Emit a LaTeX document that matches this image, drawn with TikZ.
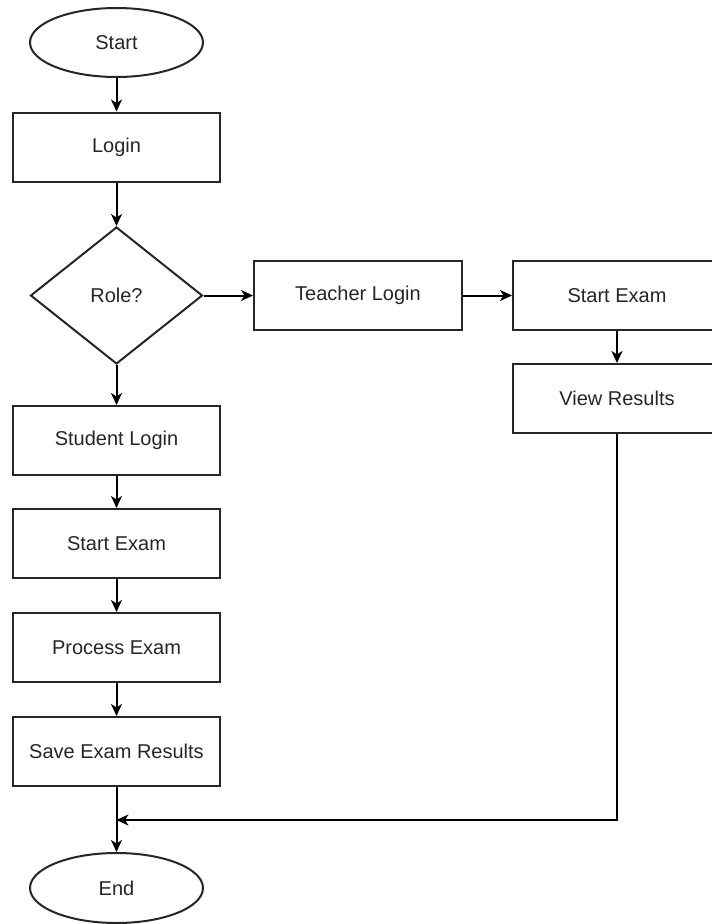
\documentclass[tikz,border=0pt]{standalone}
\usepackage{fontspec}
\setmainfont{Liberation Sans}
\usetikzlibrary{shapes.geometric,arrows.meta}
\begin{document}
\begin{tikzpicture}[x=1pt,y=-1pt,
  every node/.style={font=\fontsize{20}{24}\selectfont, text=black!85},
  box/.style={draw=black!85, line width=2pt, rectangle, minimum width=207pt, minimum height=69pt, inner sep=0pt, fill=white},
  term/.style={draw=black!85, line width=2pt, ellipse, minimum width=173pt, minimum height=69pt, inner sep=0pt, fill=white},
  decision/.style={draw=black!85, line width=2pt, diamond, minimum width=172pt, minimum height=137pt, inner sep=0pt, fill=white},
  conn/.style={draw=black, line width=2pt, -{Stealth[length=12pt,width=11pt,inset=3.5pt]}},
  plain/.style={draw=black, line width=2pt}
]
\useasboundingbox (0,0) rectangle (712,924);
\clip (0,0) rectangle (712,924);
\node[term] (start) at (116.5,42.5) {Start};
\node[box] (login) at (116.5,147) {Login};
\node[decision] (role) at (116.5,295.5) {Role?};
\node[box, minimum width=208pt] (teacher) at (358,295.5) {Teacher Login};
\node[box, minimum width=208pt] (startR) at (617,295.5) {Start Exam};
\node[box, minimum width=208pt] (view) at (617,398.5) {View Results};
\node[box] (student) at (116.5,440.5) {Student Login};
\node[box] (startL) at (116.5,543.5) {Start Exam};
\node[box] (process) at (116.5,647.5) {Process Exam};
\node[box] (save) at (116.5,751.5) {Save Exam Results};
\node[term, minimum height=70pt] (end) at (116.5,888) {End};
\coordinate (join) at (116.5,820);

\draw[conn] (start) -- (login);
\draw[conn] (login) -- (role);
\draw[conn] (role) -- (teacher);
\draw[conn] (teacher) -- (startR);
\draw[conn] (startR) -- (view);
\draw[conn] (role) -- (student);
\draw[conn] (student) -- (startL);
\draw[conn] (startL) -- (process);
\draw[conn] (process) -- (save);
\draw[conn] (save) -- (end);
\draw[conn] (view.south) |- (join);
\end{tikzpicture}
\end{document}
